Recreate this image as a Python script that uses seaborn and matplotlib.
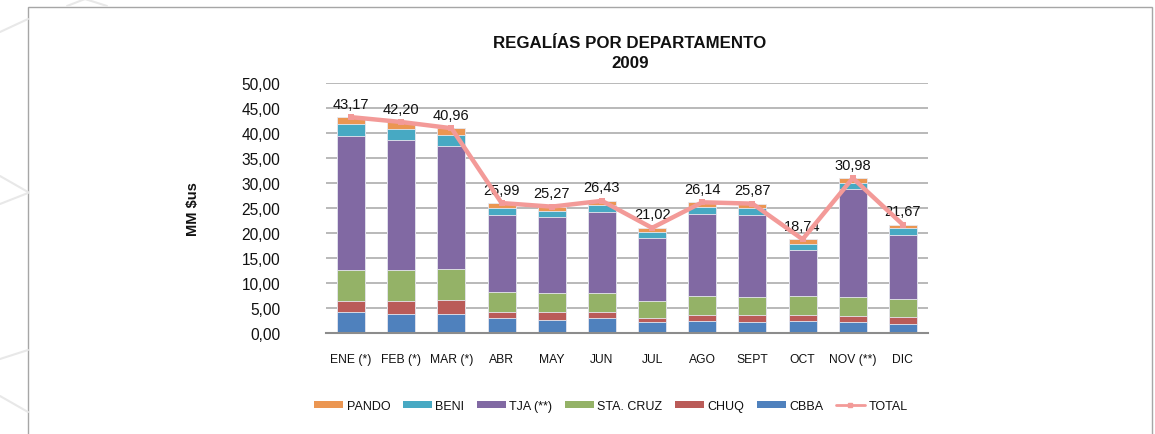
import numpy as np
import seaborn as sns
import matplotlib.pyplot as plt
from matplotlib.patches import Rectangle, Patch
from matplotlib.lines import Line2D

meses = ["ENE (*)", "FEB (*)", "MAR (*)", "ABR", "MAY", "JUN",
         "JUL", "AGO", "SEPT", "OCT", "NOV (**)", "DIC"]
cbba = [4.13, 3.87, 3.87, 2.93, 2.53, 2.93, 2.13, 2.33, 2.13, 2.33, 2.13, 1.73]
chuq = [2.20, 2.47, 2.73, 1.20, 1.60, 1.20, 0.93, 1.33, 1.53, 1.33, 1.20, 1.53]
sta_cruz = [6.20, 6.20, 6.20, 4.13, 3.80, 3.80, 3.33, 3.73, 3.47, 3.73, 3.80, 3.60]
tja = [26.93, 26.13, 24.53, 15.40, 15.20, 16.33, 12.67, 16.47, 16.53, 9.13, 21.60, 12.80]
beni = [2.33, 2.13, 2.33, 1.33, 1.33, 1.33, 1.07, 1.40, 1.33, 1.33, 1.33, 1.33]
pando = [1.38, 1.40, 1.30, 1.00, 0.81, 0.84, 0.89, 0.88, 0.88, 0.89, 0.92, 0.68]
total = [43.17, 42.20, 40.96, 25.99, 25.27, 26.43, 21.02, 26.14, 25.87, 18.74, 30.98, 21.67]

series = [("CBBA", cbba, "#4F81BD"),
          ("CHUQ", chuq, "#BA5B58"),
          ("STA. CRUZ", sta_cruz, "#94B267"),
          ("TJA (**)", tja, "#8169A3"),
          ("BENI", beni, "#47A9C3"),
          ("PANDO", pando, "#EB9652")]
color_total = "#F39A98"

sns.set_style("white")
plt.rcParams["font.family"] = ["Liberation Sans", "DejaVu Sans"]

fig = plt.figure(figsize=(11.55, 4.35), dpi=100)

# faint background decoration outside the frame
W, H = 1155, 435
for (x0, y0), (x1, y1) in [((0, 33), (28, 20)), ((0, 177), (28, 193)),
                           ((0, 205), (28, 194)), ((0, 360), (28, 351)),
                           ((0, 397), (28, 413)), ((67, 7), (85, 0)),
                           ((85, 0), (107, 7))]:
    fig.add_artist(Line2D([x0 / W, x1 / W], [1 - y0 / H, 1 - y1 / H],
                          color="#E8E8E8", linewidth=1.5, transform=fig.transFigure))

ax = fig.add_axes([326 / W, 1 - 334 / H, 602 / W, 250 / H])

# stacked bars: draw cumulative heights from the top layer down
acum = np.cumsum([s[1] for s in series], axis=0)
for i in range(len(series) - 1, -1, -1):
    sns.barplot(x=meses, y=acum[i], color=series[i][2], saturation=1,
                width=0.56, edgecolor="#E8E8F0", linewidth=0.6, ax=ax)

x = np.arange(len(meses))
sns.lineplot(x=x, y=total, color=color_total, linewidth=3.2, marker="s",
             markersize=4, markeredgewidth=0, ax=ax, zorder=5)
for xi, t in zip(x, total):
    ax.text(xi, t + 1.3, f"{t:.2f}".replace(".", ","), ha="center",
            va="bottom", fontsize=10.5, color="#111111")

ax.set_ylim(0, 50)
ax.set_xlim(-0.5, 11.5)
ax.set_yticks(np.arange(0, 51, 5))
ax.set_yticklabels([f"{v:.2f}".replace(".", ",") for v in np.arange(0, 51, 5)])
ax.set_xticks(x)
ax.set_xticklabels(meses)
ax.tick_params(axis="y", length=0, pad=33, labelsize=11.2, labelcolor="#111111")
ax.tick_params(axis="x", length=0, pad=14.5, labelsize=8.7, labelcolor="#111111")
ax.set_xlabel("")
ax.set_ylabel("")
ax.yaxis.grid(True, color="#A6A6A6", linewidth=1.1)
ax.set_axisbelow(True)
for s in ["top", "right", "left"]:
    ax.spines[s].set_visible(False)
ax.spines["bottom"].set_color("#8C8C8C")
ax.spines["bottom"].set_linewidth(1.5)

fig.text(630 / W, 1 - 44 / H, "REGALÍAS POR DEPARTAMENTO", ha="center",
         va="center", fontsize=12.2, fontweight="bold", color="#111111")
fig.text(630 / W, 1 - 64 / H, "2009", ha="center", va="center",
         fontsize=12.2, fontweight="bold", color="#111111")
fig.text(193 / W, 1 - 209 / H, r"MM \$us", rotation=90, ha="center",
         va="center", fontsize=10.5, fontweight="bold", color="#111111")

handles = [Patch(facecolor=c, edgecolor="none", label=n) for n, _, c in reversed(series)]
handles.append(Line2D([], [], color=color_total, linewidth=2, marker="s",
                      markersize=2.5, label="TOTAL"))
fig.legend(handles=handles, loc="center", bbox_to_anchor=(611 / W, 1 - 407 / H),
           ncol=7, frameon=False, fontsize=9, handlelength=2.3, handleheight=0.5,
           handletextpad=0.3, columnspacing=1.0, labelcolor="#111111")

# outer frame
fig.patches.append(Rectangle((28 / W, -0.05), (1152 - 28) / W, 0.05 + 1 - 8 / H,
                             transform=fig.transFigure, facecolor="white",
                             edgecolor="#A6A6A6", linewidth=1, zorder=-1))

fig.savefig("out.png", dpi=100)
